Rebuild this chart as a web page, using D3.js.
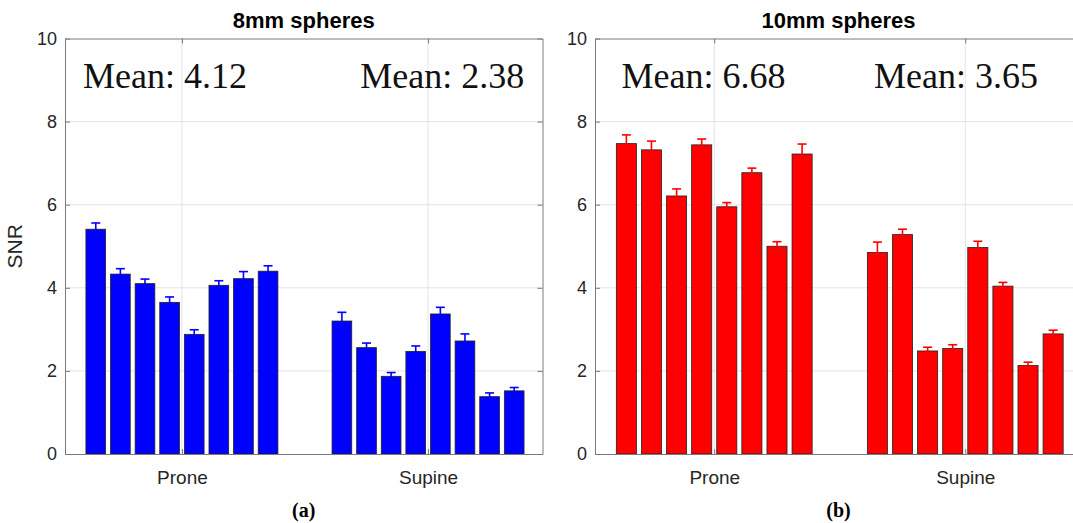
<!DOCTYPE html>
<html>
<meta charset="utf-8">
<head>
<title>SNR spheres</title>
<script src="https://d3js.org/d3.v7.min.js"></script>
<style>
  body { margin: 0; background: #fff; }
  .tick text { fill: #262626; font-family: "Liberation Sans", Arial, sans-serif; }
</style>
</head>
<body>
<svg class="chart"></svg>
<script>
// categories and ticks
var groups = ["Prone", "Supine"];
var yTicks = [0, 2, 4, 6, 8, 10];

// 8mm spheres
var snr8Prone  = [5.41, 4.33, 4.10, 3.65, 2.88, 4.06, 4.22, 4.40];
var err8Prone  = [0.15, 0.13, 0.11, 0.13, 0.11, 0.11, 0.17, 0.13];
var snr8Supine = [3.20, 2.56, 1.87, 2.47, 3.37, 2.72, 1.38, 1.52];
var err8Supine = [0.21, 0.11, 0.09, 0.13, 0.16, 0.17, 0.09, 0.08];
var means8 = ["Mean: 4.12", "Mean: 2.38"];

// 10mm spheres
var snr10Prone  = [7.47, 7.32, 6.21, 7.44, 5.95, 6.77, 5.00, 7.22];
var err10Prone  = [0.21, 0.21, 0.17, 0.14, 0.10, 0.11, 0.11, 0.24];
var snr10Supine = [4.85, 5.28, 2.48, 2.54, 4.97, 4.04, 2.13, 2.89];
var err10Supine = [0.25, 0.13, 0.09, 0.09, 0.15, 0.09, 0.08, 0.09];
var means10 = ["Mean: 6.68", "Mean: 3.65"];

var W = 1073, H = 523;
var svg = d3.select(".chart").attr("width", W).attr("height", H);

var panels = [
  { title: "8mm spheres", letter: "(a)", color: "#0000ff",
    vals: [snr8Prone, snr8Supine], errs: [err8Prone, err8Supine], means: means8,
    range: [65, 542.5], meanX: [0.931, 2.058], ylabel: true },
  { title: "10mm spheres", letter: "(b)", color: "#ff0000",
    vals: [snr10Prone, snr10Supine], errs: [err10Prone, err10Supine], means: means10,
    range: [595, 1082], meanX: [0.957, 1.963], ylabel: false }
];

var plotTop = 38.5, plotBottom = 454;
var y = d3.scaleLinear().domain([0, 10]).range([plotBottom, plotTop]);

// offsets of the 8 bars inside a group (matlab grouped bar)
var offset = d3.scaleBand().domain(d3.range(8)).range([-0.4, 0.4])
  .paddingInner(0.2).paddingOuter(0.1);

panels.forEach(function(p) {
  var x = d3.scaleLinear().domain([0.525, 2.465]).range(p.range);
  var g = svg.append("g");
  var x0 = p.range[0], x1 = p.range[1];

  // grid
  g.selectAll(".hgrid").data(yTicks.slice(1, -1)).enter().append("line")
    .attr("x1", x0).attr("x2", x1)
    .attr("y1", function(d) { return y(d); }).attr("y2", function(d) { return y(d); })
    .attr("stroke", "#e3e3e3").attr("stroke-width", 1);
  g.selectAll(".vgrid").data([1, 2]).enter().append("line")
    .attr("x1", function(d) { return x(d); }).attr("x2", function(d) { return x(d); })
    .attr("y1", plotTop).attr("y2", plotBottom)
    .attr("stroke", "#e3e3e3").attr("stroke-width", 1);

  // flatten data
  var rows = [];
  p.vals.forEach(function(arr, gi) {
    arr.forEach(function(v, i) {
      rows.push({ pos: gi + 1 + offset(i), v: v, e: p.errs[gi][i] });
    });
  });
  var bw = x(offset.bandwidth()) - x(0);

  g.selectAll(".bar").data(rows).enter().append("rect")
    .attr("x", function(d) { return x(d.pos); })
    .attr("y", function(d) { return y(d.v); })
    .attr("width", bw)
    .attr("height", function(d) { return y(0) - y(d.v); })
    .attr("fill", p.color)
    .attr("stroke", "#222").attr("stroke-width", 0.8);

  // error bars
  var eb = g.selectAll(".err").data(rows).enter().append("g")
    .attr("stroke", p.color).attr("stroke-width", 1.6);
  eb.append("line")
    .attr("x1", function(d) { return x(d.pos) + bw / 2; })
    .attr("x2", function(d) { return x(d.pos) + bw / 2; })
    .attr("y1", function(d) { return y(d.v - d.e); })
    .attr("y2", function(d) { return y(d.v + d.e); });
  eb.append("line")
    .attr("x1", function(d) { return x(d.pos) + bw / 2 - 4.5; })
    .attr("x2", function(d) { return x(d.pos) + bw / 2 + 4.5; })
    .attr("y1", function(d) { return y(d.v + d.e); })
    .attr("y2", function(d) { return y(d.v + d.e); });

  // axes
  var axisColor = "#7a7a7a";
  var left = g.append("g").attr("transform", "translate(" + x0 + ",0)")
    .call(d3.axisLeft(y).tickValues(yTicks).tickSize(-5).tickSizeOuter(0).tickPadding(8));
  left.selectAll("text").style("font-size", "18px");
  g.append("g").attr("transform", "translate(" + x1 + ",0)")
    .call(d3.axisRight(y).tickValues(yTicks).tickSize(-5).tickSizeOuter(0).tickFormat(""));
  var bot = g.append("g").attr("transform", "translate(0," + plotBottom + ")")
    .call(d3.axisBottom(x).tickValues([1, 2]).tickSize(-5).tickSizeOuter(0).tickPadding(17)
      .tickFormat(function(d) { return groups[d - 1]; }));
  bot.selectAll("text").style("font-size", "19px");
  g.append("g").attr("transform", "translate(0," + plotTop + ")")
    .call(d3.axisTop(x).tickValues([1, 2]).tickSize(-5).tickSizeOuter(0).tickFormat(""));
  g.selectAll(".domain, .tick line").attr("stroke", axisColor);

  // mean annotations
  g.selectAll(".mean").data(p.means).enter().append("text")
    .attr("x", function(d, i) { return x(p.meanX[i]); })
    .attr("y", y(8.82))
    .attr("text-anchor", "middle")
    .style("font-family", "'Palatino Linotype', 'Book Antiqua', Palatino, 'Liberation Serif', serif")
    .style("font-size", "36px")
    .style("fill", "#111")
    .text(function(d) { return d; });

  // title and letter
  var cx = (x0 + x1) / 2;
  g.append("text").attr("x", cx).attr("y", 28).attr("text-anchor", "middle")
    .style("font-family", "'Liberation Sans', Arial, sans-serif")
    .style("font-weight", "bold").style("font-size", "22px").style("fill", "#000")
    .text(p.title);
  g.append("text").attr("x", cx).attr("y", 517).attr("text-anchor", "middle")
    .style("font-family", "'Palatino Linotype', 'Book Antiqua', 'Liberation Serif', serif")
    .style("font-weight", "bold").style("font-size", "20px").style("fill", "#000")
    .text(p.letter);

  if (p.ylabel) {
    g.append("text")
      .attr("transform", "translate(22," + (plotTop + plotBottom) / 2 + ") rotate(-90)")
      .attr("text-anchor", "middle")
      .style("font-family", "'Liberation Sans', Arial, sans-serif")
      .style("font-size", "21px").style("fill", "#262626")
      .text("SNR");
  }
});
</script>
</body>
</html>
